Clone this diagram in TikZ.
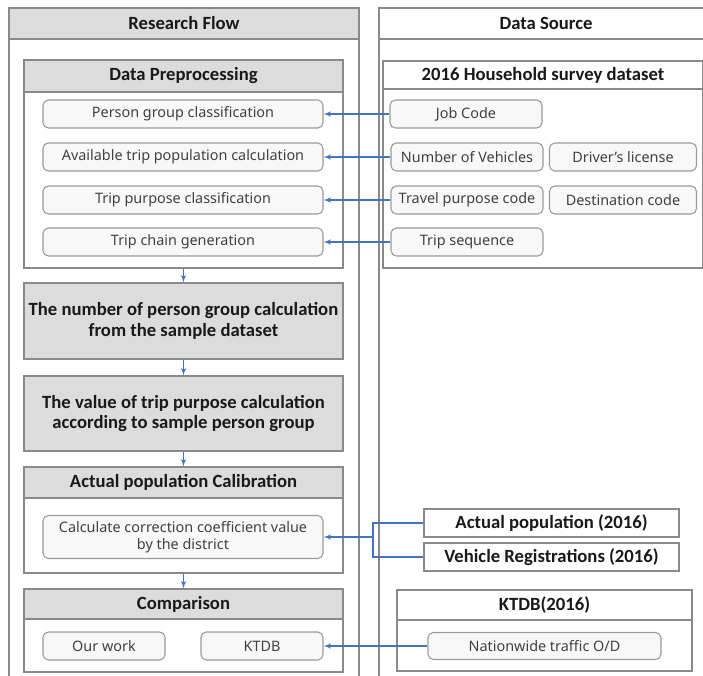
\documentclass[tikz,border=0pt]{standalone}
\usepackage{fontspec}
\setmainfont{Noto Sans}
\newfontfamily\headfont{Carlito}
\usepackage{tikz}
\usetikzlibrary{arrows, positioning}

\definecolor{hdgray}{HTML}{DCDCDC}
\definecolor{itemfill}{HTML}{F8F8F8}
\definecolor{itemgray}{HTML}{9A9A9A}
\definecolor{linegray}{HTML}{8A8A8A}
\definecolor{flowblue}{HTML}{4472C4}

\begin{document}
\begin{tikzpicture}[x=0.75pt, y=-0.75pt, >=latex', semithick,
    boxsize/.style 2 args={minimum width=#1*0.75pt, minimum height=#2*0.75pt}]
  \tikzstyle{every node}=[inner sep=2pt, text=black!90]
  \tikzstyle{frame}=[draw=linegray, line width=0.8pt, fill=white]
  \tikzstyle{title}=[frame, fill=hdgray, font=\headfont\bfseries\fontsize{14}{16}\selectfont]
  \tikzstyle{item}=[draw=itemgray, line width=0.8pt, fill=itemfill, rounded corners=4pt,
                    font=\fontsize{10.8}{13}\selectfont, text=black!75]
  \tikzstyle{flow}=[->, color=flowblue, line width=0.9pt]

  \useasboundingbox (0,0) rectangle (703,675);

  % the two columns
  \draw[frame] (9,8) rectangle (359,690);
  \draw[frame] (379,8) rectangle (713,690);
  \node[title, boxsize={350}{31}]             (rfhead) at (184,23.5) {Research Flow};
  \node[title, fill=white, boxsize={334}{31}] (dshead) at (546,23.5) {Data Source};

  % research flow
  \node[frame, boxsize={319}{208}] (prebody) at (183.5,164) {};
  \node[title, boxsize={319}{32}]  (prehead) at (183.5,76)  {Data Preprocessing};
  \node[item, boxsize={280}{28}] (persgrp)  at (183,114) {Person group classification};
  \node[item, boxsize={280}{28}] (avail)    at (183,157) {Available trip population calculation};
  \node[item, boxsize={280}{28}] (purpcls)  at (183,200) {Trip purpose classification};
  \node[item, boxsize={280}{28}] (chaingen) at (183,242) {Trip chain generation};

  \node[title, boxsize={319}{76}, align=center, font=\headfont\bfseries\fontsize{14}{15.5}\selectfont]
       (numgrp) at (183.5,321) {The number of person group calculation\\from the sample dataset};
  \node[title, boxsize={319}{75}, align=center, font=\headfont\bfseries\fontsize{14}{15.5}\selectfont]
       (valpurp) at (183.5,413.5) {The value of trip purpose calculation\\according to sample person group};

  \node[frame, boxsize={319}{106}] (calbody) at (183.5,520)   {};
  \node[title, boxsize={319}{31}]  (calhead) at (183.5,482.5) {Actual population Calibration};
  \node[item, boxsize={280}{43}, align=center] (coef) at (183,537)
       {Calculate correction coefficient value\\by the district};

  \node[frame, boxsize={319}{83}] (cmpbody) at (183.5,630.5) {};
  \node[title, boxsize={319}{30}] (cmphead) at (183.5,604)   {Comparison};
  \node[item, boxsize={122}{28}]  (ours)    at (104,646)     {Our work};
  \node[item, boxsize={122}{28}]  (ktdb)    at (262,646)     {KTDB};

  % data source
  \node[frame, boxsize={320}{207}] (hhbody) at (543,164.5) {};
  \node[title, fill=white, boxsize={320}{28}] (hhhead) at (543,75) {2016 Household survey dataset};
  \node[item, boxsize={152}{28}] (jobcode) at (466,114) {Job Code};
  \node[item, boxsize={152}{28}] (numveh)  at (467,157) {Number of Vehicles};
  \node[item, boxsize={147}{28}] (license) at (623,157) {Driver's license};
  \node[item, boxsize={152}{28}] (travpc)  at (467,200) {Travel purpose code};
  \node[item, boxsize={147}{28}] (destc)   at (623,200) {Destination code};
  \node[item, boxsize={152}{28}] (tripseq) at (467,242) {Trip sequence};

  \node[title, fill=white, boxsize={255}{28}] (actpop) at (551.5,523) {Actual population (2016)};
  \node[title, fill=white, boxsize={255}{28}] (vehreg) at (551.5,557) {Vehicle Registrations (2016)};

  \node[frame, boxsize={295}{81}] (odbody) at (544.5,630.5) {};
  \node[title, fill=white, boxsize={295}{30}] (odhead) at (544.5,605) {KTDB(2016)};
  \node[item, boxsize={233}{27}] (natod) at (544.5,646) {Nationwide traffic O/D};

  % connectors
  \draw[flow] (jobcode.west) -- (persgrp.east);
  \draw[flow] (numveh.west)  -- (avail.east);
  \draw[flow] (travpc.west)  -- (purpcls.east);
  \draw[flow] (tripseq.west) -- (chaingen.east);

  \coordinate (merge) at (373,537);
  \draw[flow] (actpop.west) -| (merge) -- (coef.east);
  \draw[color=flowblue, line width=0.9pt] (vehreg.west) -| (merge);
  \draw[flow] (natod.west) -- (ktdb.east);

  \draw[flow] (prebody.south) -- (numgrp.north);
  \draw[flow] (numgrp.south)  -- (valpurp.north);
  \draw[flow] (valpurp.south) -- (calhead.north);
  \draw[flow] (calbody.south) -- (cmphead.north);
\end{tikzpicture}
\end{document}
